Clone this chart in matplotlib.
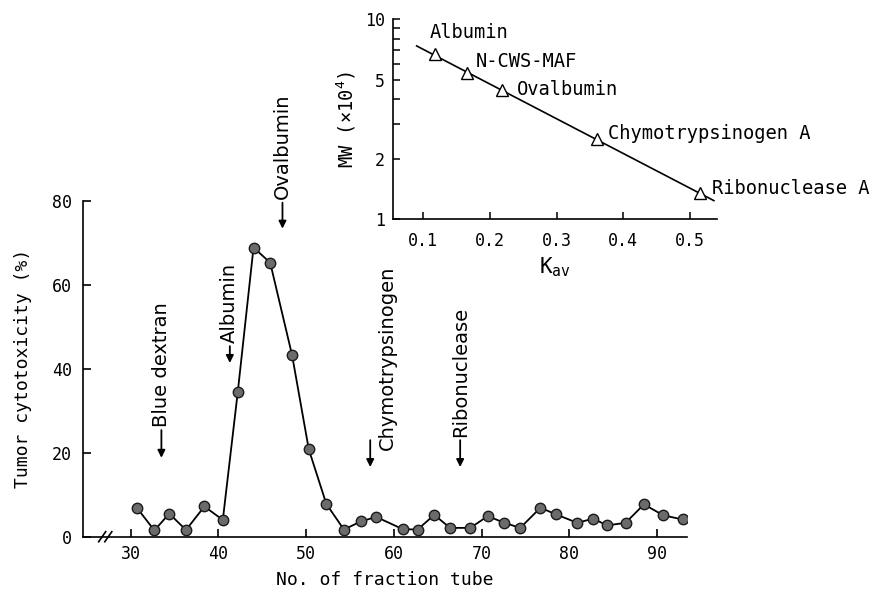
import matplotlib
matplotlib.use('Agg')
import matplotlib.pyplot as plt

plt.rcParams['font.family'] = ['DejaVu Sans Mono', 'DejaVu Sans']
plt.rcParams['mathtext.default'] = 'regular'

# ---- main chromatogram data ----
tube = [30.7, 32.7, 34.4, 36.3, 38.4, 40.5, 42.2, 44.0, 45.9, 48.4, 50.3, 52.3,
        54.3, 56.3, 58.0, 61.0, 62.7, 64.6, 66.4, 68.7, 70.7, 72.6, 74.4, 76.7,
        78.5, 80.9, 82.7, 84.3, 86.4, 88.5, 90.7, 92.9]
cytotox = [6.9, 1.5, 5.5, 1.6, 7.2, 4.0, 34.4, 68.9, 65.3, 43.2, 20.8, 7.8,
           1.7, 3.7, 4.7, 1.8, 1.7, 5.2, 2.1, 2.1, 4.9, 3.3, 2.1, 6.9,
           5.3, 3.3, 4.3, 2.7, 3.3, 7.7, 5.1, 4.1]

x_ticks = [30, 40, 50, 60, 70, 80, 90]
y_ticks = [0, 20, 40, 60, 80]

# elution markers
marker_names = ['Blue dextran', 'Albumin', 'Ovalbumin', 'Chymotrypsinogen', 'Ribonuclease']
marker_tubes = [33.5, 41.3, 47.3, 57.3, 67.55]

# ---- inset calibration data ----
std_names = ['Albumin', 'N-CWS-MAF', 'Ovalbumin', 'Chymotrypsinogen A', 'Ribonuclease A']
std_kav = [0.1175, 0.166, 0.2175, 0.360, 0.515]
std_mw = [6.68, 5.41, 4.43, 2.51, 1.35]
fit_kav = [0.09, 0.536]
fit_mw = [7.36, 1.24]
inset_xticks = [0.1, 0.2, 0.3, 0.4, 0.5]
inset_yticks = [1, 2, 5, 10]
inset_yminor = [3, 4, 6, 7, 8, 9]

fig = plt.figure(figsize=(8.76, 5.96), dpi=100)

# ---------------- main axes ----------------
ax = fig.add_axes([0.0947, 0.0995, 0.690, 0.5633])
ax.plot(tube, cytotox, color='black', lw=1.3, marker='o', ms=7.5,
        mfc='#6b6b6b', mec='#1a1a1a', mew=1.0, zorder=3)
ax.set_xlim(24.56, 93.45)
ax.set_ylim(0, 80)
ax.set_xticks(x_ticks)
ax.set_yticks(y_ticks)
for s in ['top', 'right']:
    ax.spines[s].set_visible(False)
for s in ['left', 'bottom']:
    ax.spines[s].set_linewidth(1.2)
ax.tick_params(direction='in', length=6, width=1.2, labelsize=12, pad=8)
ax.tick_params(axis='x', pad=6)
ax.set_xlabel('No. of fraction tube', fontsize=13, labelpad=6)
ax.set_ylabel('Tumor cytotoxicity (%)', fontsize=13, labelpad=14)

# axis break marks "//"
for xc in (26.75, 27.45):
    ax.plot([xc - 0.4, xc + 0.4], [-0.015, 0.015], color='black', lw=1.2,
            transform=ax.get_xaxis_transform(), clip_on=False, zorder=4)

# annotation layout: (text x shift, text bottom, arrow tail, arrow tip)
layout = {
    'Blue dextran': (0.0, 26.1, 25.4, 18.8),
    'Albumin': (0.0, 46.2, 45.4, 41.4),
    'Ovalbumin': (0.0, 80.4, 79.6, 73.4),
    'Chymotrypsinogen': (1.9, 20.7, 23.0, 16.6),
    'Ribonuclease': (0.0, 23.8, 23.0, 16.6),
}
for name, t in zip(marker_names, marker_tubes):
    dx, tb, ta, tip = layout[name]
    ax.annotate('', xy=(t, tip), xytext=(t, ta), annotation_clip=False,
                arrowprops=dict(arrowstyle='-|>', color='black', lw=1.3,
                                mutation_scale=11, shrinkA=0, shrinkB=0))
    ax.text(t + dx, tb, name, rotation=90, ha='center', va='bottom',
            fontsize=14, family=['DejaVu Sans'], clip_on=False)

# ---------------- inset ----------------
axin = fig.add_axes([0.449, 0.632, 0.369, 0.3356])
axin.set_yscale('log')
axin.plot(fit_kav, fit_mw, color='black', lw=1.2)
axin.plot(std_kav, std_mw, linestyle='none', marker='^', ms=8.5,
          mfc='white', mec='black', mew=1.0, zorder=3)
offsets = {
    'Albumin': (-5, 22),
    'N-CWS-MAF': (8, 11),
    'Ovalbumin': (15, 1),
    'Chymotrypsinogen A': (11, 6),
    'Ribonuclease A': (12, 5),
}
for name, k, m in zip(std_names, std_kav, std_mw):
    axin.annotate(name, xy=(k, m), xytext=offsets[name], textcoords='offset pixels',
                  ha='left', va='center', fontsize=13.5, annotation_clip=False)
axin.set_xlim(0.055, 0.540)
axin.set_ylim(1, 10)
axin.set_xticks(inset_xticks)
axin.set_xticklabels(['%.1f' % v for v in inset_xticks])
axin.set_yticks(inset_yticks)
axin.set_yticklabels([str(v) for v in inset_yticks])
axin.set_yticks(inset_yminor, minor=True)
axin.set_yticklabels([], minor=True)
for s in ['top', 'right']:
    axin.spines[s].set_visible(False)
for s in ['left', 'bottom']:
    axin.spines[s].set_linewidth(1.2)
axin.tick_params(which='both', direction='in', length=5, width=1.1, labelsize=12, pad=6)
axin.tick_params(axis='x', pad=9)
axin.set_xlabel('K$_{av}$', fontsize=15, labelpad=4)
axin.set_ylabel('MW (×10$^{4}$)', fontsize=13.5, labelpad=5)

fig.savefig('out.png', dpi=100)
